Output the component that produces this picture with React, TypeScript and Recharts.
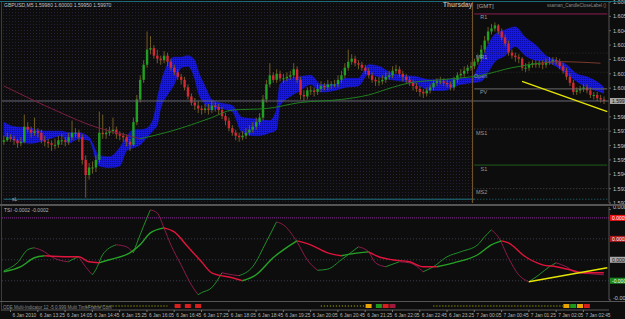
import React from 'react'
import {
  ComposedChart, Bar, Area, Line, Scatter, XAxis, YAxis, ReferenceLine,
} from 'recharts'

// GBPUSD M5, bars 0..176 (6 Jan 12:35 -> 7 Jan 03:15), slot 177 left empty
const FONT = '"Liberation Sans", Arial, sans-serif'
const SLOTS = 178
const FIRST_OPEN = 1.5970

const closes = [
  1.5971, 1.5973, 1.5972, 1.5971, 1.5969, 1.5970, 1.5980, 1.5978, 1.5976, 1.5977,
  1.5976, 1.5971, 1.5970, 1.5969, 1.5968, 1.5968, 1.5971, 1.5971, 1.5970, 1.5973,
  1.5976, 1.5976, 1.5973, 1.5958, 1.5948, 1.5953, 1.5953, 1.5958, 1.5976, 1.5975,
  1.5976, 1.5977, 1.5978, 1.5975, 1.5974, 1.5973, 1.5970, 1.5968, 1.5983, 1.5998,
  1.6011, 1.6021, 1.6031, 1.6032, 1.6027, 1.6025, 1.6024, 1.6027, 1.6023, 1.6019,
  1.6016, 1.6013, 1.6011, 1.6006, 1.6000, 1.5996, 1.5994, 1.5992, 1.5991, 1.5992,
  1.5991, 1.5994, 1.5993, 1.5991, 1.5987, 1.5984, 1.5979, 1.5976, 1.5974, 1.5973,
  1.5974, 1.5976, 1.5978, 1.5980, 1.5983, 1.5986, 1.5998, 1.6008, 1.6014, 1.6011,
  1.6015, 1.6012, 1.6012, 1.6013, 1.6014, 1.6018, 1.6011, 1.6001, 1.6000, 1.6004,
  1.6004, 1.6003, 1.6005, 1.6007, 1.6006, 1.6008, 1.6008, 1.6008, 1.6011, 1.6014,
  1.6019, 1.6023, 1.6025, 1.6022, 1.6021, 1.6019, 1.6017, 1.6014, 1.6011, 1.6010,
  1.6010, 1.6011, 1.6013, 1.6014, 1.6017, 1.6018, 1.6015, 1.6013, 1.6011, 1.6009,
  1.6007, 1.6005, 1.6003, 1.6002, 1.6004, 1.6006, 1.6009, 1.6010, 1.6010, 1.6009,
  1.6008, 1.6006, 1.6011, 1.6014, 1.6015, 1.6017, 1.6019, 1.6020, 1.6023, 1.6025,
  1.6031, 1.6037, 1.6043, 1.6045, 1.6047, 1.6043, 1.6039, 1.6035, 1.6029, 1.6027,
  1.6026, 1.6025, 1.6019, 1.6019, 1.6021, 1.6022, 1.6021, 1.6022, 1.6021, 1.6023,
  1.6023, 1.6024, 1.6023, 1.6020, 1.6017, 1.6013, 1.6009, 1.6003, 1.6004, 1.6005,
  1.6006, 1.6004, 1.6001, 1.6001, 1.5999, 1.5998, 1.5997,
]

const highs = [
  1.5974, 1.5976, 1.5975, 1.5974, 1.5972, 1.5973, 1.5988, 1.5983, 1.5980, 1.5986,
  1.5979, 1.5978, 1.5974, 1.5972, 1.5971, 1.5972, 1.5974, 1.5975, 1.5973, 1.5976,
  1.5984, 1.5979, 1.5978, 1.5975, 1.5961, 1.5956, 1.5957, 1.5961, 1.5990, 1.5988,
  1.5979, 1.5980, 1.5986, 1.5980, 1.5977, 1.5976, 1.5975, 1.5972, 1.5986, 1.6001,
  1.6014, 1.6024, 1.6043, 1.6040, 1.6034, 1.6031, 1.6027, 1.6030, 1.6029, 1.6025,
  1.6021, 1.6018, 1.6015, 1.6013, 1.6008, 1.6002, 1.5999, 1.5997, 1.5994, 1.5995,
  1.5995, 1.5997, 1.5996, 1.5995, 1.5993, 1.5989, 1.5986, 1.5981, 1.5978, 1.5976,
  1.5977, 1.5979, 1.5981, 1.5983, 1.5986, 1.5989, 1.6001, 1.6011, 1.6022, 1.6016,
  1.6018, 1.6017, 1.6015, 1.6016, 1.6017, 1.6022, 1.6020, 1.6013, 1.6004, 1.6006,
  1.6007, 1.6006, 1.6008, 1.6010, 1.6009, 1.6011, 1.6010, 1.6011, 1.6014, 1.6017,
  1.6022, 1.6031, 1.6028, 1.6027, 1.6024, 1.6023, 1.6021, 1.6019, 1.6016, 1.6013,
  1.6013, 1.6014, 1.6016, 1.6017, 1.6020, 1.6021, 1.6020, 1.6017, 1.6015, 1.6013,
  1.6011, 1.6009, 1.6007, 1.6005, 1.6006, 1.6008, 1.6011, 1.6012, 1.6013, 1.6012,
  1.6011, 1.6010, 1.6013, 1.6016, 1.6018, 1.6020, 1.6021, 1.6023, 1.6025, 1.6028,
  1.6034, 1.6040, 1.6046, 1.6048, 1.6049, 1.6048, 1.6045, 1.6041, 1.6037, 1.6031,
  1.6029, 1.6028, 1.6026, 1.6022, 1.6023, 1.6024, 1.6024, 1.6024, 1.6024, 1.6025,
  1.6026, 1.6026, 1.6026, 1.6025, 1.6022, 1.6019, 1.6015, 1.6011, 1.6006, 1.6007,
  1.6008, 1.6008, 1.6006, 1.6003, 1.6003, 1.6001, 1.6000,
]

const lows = [
  1.5968, 1.5970, 1.5970, 1.5968, 1.5966, 1.5967, 1.5969, 1.5976, 1.5973, 1.5974,
  1.5973, 1.5969, 1.5967, 1.5966, 1.5964, 1.5965, 1.5966, 1.5968, 1.5967, 1.5968,
  1.5971, 1.5973, 1.5970, 1.5955, 1.5933, 1.5945, 1.5949, 1.5950, 1.5956, 1.5972,
  1.5972, 1.5974, 1.5975, 1.5972, 1.5971, 1.5970, 1.5967, 1.5964, 1.5967, 1.5981,
  1.5996, 1.6009, 1.6019, 1.6028, 1.6025, 1.6022, 1.6021, 1.6022, 1.6020, 1.6017,
  1.6014, 1.6011, 1.6008, 1.6004, 1.5998, 1.5994, 1.5991, 1.5989, 1.5988, 1.5989,
  1.5988, 1.5989, 1.5990, 1.5988, 1.5985, 1.5981, 1.5977, 1.5974, 1.5971, 1.5970,
  1.5971, 1.5972, 1.5974, 1.5976, 1.5978, 1.5981, 1.5984, 1.5996, 1.6006, 1.6009,
  1.6009, 1.6010, 1.6009, 1.6010, 1.6011, 1.6012, 1.6009, 1.5998, 1.5997, 1.5998,
  1.6001, 1.6000, 1.6001, 1.6003, 1.6004, 1.6004, 1.6005, 1.6006, 1.6006, 1.6009,
  1.6012, 1.6017, 1.6021, 1.6020, 1.6018, 1.6017, 1.6015, 1.6012, 1.6009, 1.6007,
  1.6007, 1.6008, 1.6009, 1.6011, 1.6012, 1.6015, 1.6013, 1.6010, 1.6009, 1.6007,
  1.6004, 1.6003, 1.6000, 1.5999, 1.6000, 1.6002, 1.6004, 1.6007, 1.6008, 1.6007,
  1.6006, 1.6004, 1.6004, 1.6009, 1.6012, 1.6013, 1.6015, 1.6017, 1.6018, 1.6021,
  1.6023, 1.6029, 1.6035, 1.6041, 1.6043, 1.6041, 1.6037, 1.6033, 1.6027, 1.6025,
  1.6023, 1.6022, 1.6017, 1.6016, 1.6017, 1.6019, 1.6019, 1.6019, 1.6018, 1.6019,
  1.6021, 1.6021, 1.6021, 1.6018, 1.6015, 1.6011, 1.6007, 1.6001, 1.6001, 1.6002,
  1.6003, 1.6002, 1.5999, 1.5998, 1.5997, 1.5996, 1.5995,
]

// blue band (read at these bars)
const cloudBars = [
  0, 3, 8, 12, 17, 19, 22, 25, 28, 31, 34, 36, 38, 40, 42, 44, 45, 46, 48, 50,
  52, 54, 56, 57, 59, 61, 63, 67, 70, 74, 78, 80, 81, 84, 87, 90, 93, 97, 100, 104,
  107, 110, 114, 117, 121, 125, 129, 134, 137, 140, 142, 144, 147, 150, 153, 156, 159, 162, 165, 168,
  171, 175, 176,
]
const cloudTop = [
  1.5983, 1.5980, 1.5979, 1.5977, 1.5977, 1.5976, 1.5976, 1.5973, 1.5961, 1.5960,
  1.5966, 1.5973, 1.5978, 1.5978, 1.5979, 1.5986, 1.5998, 1.6008, 1.6021, 1.6026,
  1.6026, 1.6027, 1.6024, 1.6017, 1.6007, 1.5998, 1.5996, 1.5994, 1.5986, 1.5985,
  1.5984, 1.5991, 1.6008, 1.6012, 1.6013, 1.6014, 1.6008, 1.6008, 1.6012, 1.6012,
  1.6021, 1.6020, 1.6015, 1.6014, 1.6013, 1.6011, 1.6011, 1.6012, 1.6012, 1.6024,
  1.6034, 1.6041, 1.6044, 1.6046, 1.6039, 1.6034, 1.6027, 1.6024, 1.6021, 1.6015,
  1.6013, 1.6008, 1.6006,
]
const cloudBottom = [
  1.5974, 1.5971, 1.5969, 1.5971, 1.5974, 1.5969, 1.5972, 1.5971, 1.5954, 1.5953,
  1.5954, 1.5964, 1.5966, 1.5968, 1.5973, 1.5978, 1.5981, 1.5992, 1.6001, 1.6008,
  1.6019, 1.6020, 1.6012, 1.6003, 1.5995, 1.5991, 1.5992, 1.5990, 1.5976, 1.5974,
  1.5976, 1.5978, 1.5994, 1.6000, 1.6004, 1.6008, 1.6003, 1.6004, 1.6006, 1.6007,
  1.6015, 1.6013, 1.6011, 1.6010, 1.6008, 1.6004, 1.6004, 1.6008, 1.6009, 1.6010,
  1.6016, 1.6023, 1.6027, 1.6033, 1.6027, 1.6024, 1.6023, 1.6020, 1.6015, 1.6010,
  1.6006, 1.6003, 1.6002,
]

// moving average, split where its colour changes
const maFallingBars = [0, 14, 28, 35, 40]
const maFalling = [1.6007, 1.5992, 1.5979, 1.5975, 1.5972]
const maRisingBars = [40, 49, 61, 67, 77, 87, 99, 107, 114, 119, 128, 140, 149, 157]
const maRising = [1.5972, 1.5977, 1.5986, 1.5991, 1.5992, 1.5996, 1.5998, 1.6001, 1.6006, 1.6009, 1.6011, 1.6014, 1.6019, 1.6022]
const maFlatBars = [157, 163, 175]
const maFlat = [1.6022, 1.6023, 1.6022]

const DAY_START_BAR = 138
const pivotNames = ['R1', 'MR1', 'Open', 'PV', 'MS1', 'S1', 'MS2']
const pivotLevels = [1.60546, 1.60287, 1.6016, 1.6005, 1.59784, 1.59546, 1.5939]
const S2_LEVEL = 1.5932

const trendBars = [152, 177]
const trendPrices = [1.6010, 1.5990]

const priceTicks = [
  1.60625, 1.6053, 1.60435, 1.6034, 1.60245, 1.6015, 1.60055,
  1.59865, 1.5977, 1.59675, 1.5958, 1.59485, 1.5939, 1.59295,
]

// TSI sub-window
const fastBars = [
  0, 2, 4, 7, 9, 12, 14, 16, 19, 20, 22, 24, 26, 27, 29, 33, 36, 38, 40, 42,
  43, 45, 47, 49, 52, 55, 57, 58, 61, 64, 67, 69, 73, 77, 80, 82, 86, 89, 92, 95,
  99, 101, 104, 107, 109, 112, 116, 119, 123, 126, 130, 134, 139, 141, 143, 145, 148, 151, 154, 157,
  160, 162, 165, 168, 172, 176,
]
const fastVals = [
  -0.000131, -0.000095, -0.000036, 0.000119, 0.000143, 0.000095, 0.000036, 0, -0.000024, 0,
  0.000036, -0.000083, -0.000179, -0.000119, 0.00006, 0.000179, 0.000155, 0.000083, 0.000298, 0.0005,
  0.000595, 0.00056, 0.000381, 0.000179, -0.00006, -0.000298, -0.000417, -0.000393, -0.000333, -0.000155,
  -0.000179, -0.00019, -0.000083, 0.000214, 0.000452, 0.000417, 0.000214, 0, -0.000125, -0.000112,
  0, 0.00006, 0.000155, 0.000095, -0.000036, -0.000083, -0.000024, -0.000036, -0.000143, -0.000083,
  0.000036, 0.000095, 0.000179, 0.000274, 0.000357, 0.000274, 0.000024, -0.000179, -0.000262, -0.000179,
  -0.000083, -0.000036, -0.000083, -0.000155, -0.000167, -0.000179,
]
const slowBars = [
  0, 5, 9, 12, 19, 22, 25, 28, 31, 37, 40, 43, 47, 50, 54, 58, 61, 67, 70, 74,
  79, 86, 90, 95, 99, 102, 107, 110, 114, 119, 123, 127, 132, 139, 143, 146, 148, 153, 158, 162,
  166, 170, 174, 176,
]
const slowVals = [
  -0.000143, -0.000083, 0.000024, 0.000048, 0.000036, 0.000036, -0.000024, -0.000036, 0, 0.000083,
  0.000179, 0.000321, 0.000381, 0.000333, 0.000155, -0.000024, -0.000155, -0.000214, -0.00025, -0.000179,
  0.000024, 0.000226, 0.000179, 0.000083, 0.000048, 0.000071, 0.000095, 0.000036, 0, -0.000024,
  -0.000083, -0.000083, -0.000036, 0.00006, 0.000179, 0.000226, 0.000202, 0.000036, -0.00006, -0.000083,
  -0.000119, -0.000155, -0.000155, -0.000155,
]
const subLevels = [0.0005, 0.00025, 0, -0.00025]
const subLevelText = ['0.00050', '0.00025', '0.00000', '-0.00025']
const subTrendBars = [154, 177]
const subTrendVals = [-0.000262, -0.000095]

// signal strip under the TSI window
const stripBars = [51, 54, 57, 107, 110, 112, 114, 165, 167, 169, 171]
const stripKinds = ['sell', 'sell', 'sell', 'wait', 'buy', 'sell', 'strong', 'wait', 'buy', 'wait', 'sell']
const stripDotFrom = [24, 93, 126]
const stripDotTo = [48, 106, 164]

const timeTickBars = [2, 10, 18, 26, 34, 42, 50, 58, 66, 74, 82, 90, 98, 106, 114, 122, 130, 138, 146, 154, 162, 170]
const timeLabels = [
  '6 Jan 2010', '6 Jan 13:25', '6 Jan 14:05', '6 Jan 14:45', '6 Jan 15:25', '6 Jan 16:05',
  '6 Jan 16:45', '6 Jan 17:25', '6 Jan 18:05', '6 Jan 18:45', '6 Jan 19:25', '6 Jan 20:05',
  '6 Jan 20:45', '6 Jan 21:25', '6 Jan 22:05', '6 Jan 22:45', '6 Jan 23:25', '7 Jan 00:05',
  '7 Jan 00:45', '7 Jan 01:25', '7 Jan 02:05', '7 Jan 02:45',
]

const lastPrice = closes[closes.length - 1]

function sparse(bars: number[], vals: number[], i: number) {
  const k = bars.indexOf(i)
  return k >= 0 ? vals[k] : null
}

const rows = Array.from({ length: SLOTS }, (_, i) => {
  const has = i < closes.length
  const k = cloudBars.indexOf(i)
  return {
    i,
    candle: has ? [lows[i], highs[i]] : null,
    open: has ? (i === 0 ? FIRST_OPEN : closes[i - 1]) : null,
    close: has ? closes[i] : null,
    cloud: k >= 0 ? [cloudBottom[k], cloudTop[k]] : null,
    maFalling: sparse(maFallingBars, maFalling, i),
    maRising: sparse(maRisingBars, maRising, i),
    maFlat: sparse(maFlatBars, maFlat, i),
  }
})

// split a line into rising / falling runs so each run gets its own colour
function slopeRuns(bars: number[], vals: number[]) {
  const runs: { up: boolean; pts: { x: number; v: number }[] }[] = []
  for (let k = 1; k < bars.length; k++) {
    const up = vals[k] > vals[k - 1]
    const last = runs[runs.length - 1]
    if (last && last.up === up) last.pts.push({ x: bars[k], v: vals[k] })
    else runs.push({ up, pts: [{ x: bars[k - 1], v: vals[k - 1] }, { x: bars[k], v: vals[k] }] })
  }
  return runs
}
const fastRuns = slopeRuns(fastBars, fastVals)
const slowRuns = slopeRuns(slowBars, slowVals)

const stripData = stripBars.map((x, k) => ({ x, y: 0.5, kind: stripKinds[k] }))
const STRIP_COLORS: Record<string, string> = { sell: '#d81f1f', buy: '#1e9a1e', wait: '#e8a400', strong: '#a0183a' }

const PIVOT_STYLE: Record<string, { stroke: string; dash?: string }> = {
  R1: { stroke: '#8a1f52' },
  MR1: { stroke: '#2c2c2c', dash: '1 2' },
  Open: { stroke: '#2c2c2c', dash: '1 2' },
  PV: { stroke: '#6c6c6c' },
  MS1: { stroke: '#4a4a4a', dash: '1 2' },
  S1: { stroke: '#1f5c1f' },
  MS2: { stroke: '#4a4a4a', dash: '1 2' },
}

function Candle(props: any) {
  const { x, y, width, height, payload } = props
  if (!payload || payload.close == null || !height) return <g />
  const [lo, hi] = payload.candle
  const py = (v: number) => y + ((hi - v) / (hi - lo)) * height
  const cx = x + width / 2
  const top = py(Math.max(payload.open, payload.close))
  const bot = py(Math.min(payload.open, payload.close))
  const up = payload.close >= payload.open
  return (
    <g>
      <rect x={cx - 0.5} y={y} width={1} height={height} fill="#6e5b22" />
      <rect x={cx - 1.2} y={top} width={2.4} height={Math.max(1, bot - top)} fill={up ? '#1fa01f' : '#d42835'} />
    </g>
  )
}

function PivotLabel(props: any) {
  const { viewBox, text } = props
  if (!viewBox) return null
  return (
    <text x={viewBox.x + 13} y={viewBox.y + 5.5} textAnchor="end" fontSize={5.5} fill="#9a9a9a">{text}</text>
  )
}

function AxisBox(props: any) {
  const { viewBox, text, bg, fg } = props
  if (!viewBox) return null
  const x = viewBox.x + viewBox.width + 1
  return (
    <g>
      <rect x={x} y={viewBox.y - 3} width={16} height={6} fill={bg} />
      <text x={x + 2} y={viewBox.y + 2} fontSize={5} fill={fg}>{text}</text>
    </g>
  )
}

function TimeTick(props: any) {
  const { x, y, payload } = props
  const k = timeTickBars.indexOf(payload.value)
  return (
    <g>
      <line x1={x} x2={x} y1={y - 2} y2={y} stroke="#777" />
      <text x={x + 2} y={y + 4.5} fontSize={4.8} fill="#b4b4b4">{timeLabels[k]}</text>
    </g>
  )
}

const txt = (left: number, top: number, size: number, color: string, extra: React.CSSProperties = {}) => ({
  position: 'absolute' as const, left, top, fontSize: size, color, lineHeight: 1, whiteSpace: 'nowrap' as const, ...extra,
})

export default function App() {
  return (
    <div style={{ position: 'relative', width: 625, height: 319, background: '#0d0d0d', overflow: 'hidden', fontFamily: FONT }}>
      <style>{'body{margin:0;background:#0d0d0d}'}</style>

      {/* dotted background of the previous day */}
      <div style={{
        position: 'absolute', left: 2, top: 2, width: 471, height: 201,
        backgroundImage: 'radial-gradient(circle, #2a1d38 0.7px, transparent 0.9px)',
        backgroundSize: '3px 3px',
      }} />

      {/* price window */}
      <div style={{ position: 'absolute', left: 0, top: 0 }}>
        <ComposedChart width={625} height={205} data={rows} margin={{ top: 2, right: 0, bottom: 2, left: 2 }}>
          <defs>
            <pattern id="kumoDots" width="2" height="2" patternUnits="userSpaceOnUse">
              <rect width="2" height="2" fill="#1717e4" />
              <rect width="1" height="1" fill="#0a0aa6" />
            </pattern>
          </defs>
          <XAxis dataKey="i" hide />
          <YAxis
            orientation="right"
            width={16}
            domain={[1.59295, 1.60625]}
            allowDataOverflow
            ticks={priceTicks}
            interval={0}
            tickFormatter={(v: number) => v.toFixed(5)}
            tick={{ fill: '#c4c4c4', fontSize: 5.5 }}
            tickSize={2}
            tickMargin={2}
            axisLine={{ stroke: '#555' }}
            tickLine={{ stroke: '#666' }}
          />

          <ReferenceLine y={lastPrice} stroke="#6a6a78"
            label={<AxisBox text={lastPrice.toFixed(5)} bg="#a6a6a6" fg="#111" />} />
          <ReferenceLine segment={[{ x: 0, y: S2_LEVEL }, { x: DAY_START_BAR, y: S2_LEVEL }]} stroke="#1f7480" />
          <ReferenceLine segment={[{ x: DAY_START_BAR, y: S2_LEVEL }, { x: SLOTS - 1, y: S2_LEVEL }]} stroke="#1f7480" strokeDasharray="1 2" />
          {pivotNames.map((name, k) => (
            <ReferenceLine
              key={name}
              segment={[{ x: DAY_START_BAR, y: pivotLevels[k] }, { x: SLOTS - 1, y: pivotLevels[k] }]}
              stroke={PIVOT_STYLE[name].stroke}
              strokeDasharray={PIVOT_STYLE[name].dash}
              label={<PivotLabel text={name} />}
            />
          ))}
          <ReferenceLine x={DAY_START_BAR} position="start" stroke="#7a5a30" />

          <Area
            dataKey="cloud"
            type="monotone"
            connectNulls
            fill="url(#kumoDots)"
            fillOpacity={1}
            stroke="#1a1af0"
            strokeWidth={0.5}
            dot={false}
            activeDot={false}
            isAnimationActive={false}
          />
          <Line dataKey="maFalling" type="monotone" connectNulls stroke="#7a1f3d" strokeWidth={1} dot={false} isAnimationActive={false} />
          <Line dataKey="maRising" type="monotone" connectNulls stroke="#1f7f1f" strokeWidth={1} dot={false} isAnimationActive={false} />
          <Line dataKey="maFlat" type="monotone" connectNulls stroke="#7a3a2e" strokeWidth={1} dot={false} isAnimationActive={false} />

          <Bar dataKey="candle" shape={<Candle />} isAnimationActive={false} />

          <ReferenceLine
            segment={[{ x: trendBars[0], y: trendPrices[0] }, { x: trendBars[1], y: trendPrices[1] }]}
            stroke="#e6e600"
            strokeWidth={1.4}
          />
        </ComposedChart>
      </div>

      {/* TSI window */}
      <div style={{ position: 'absolute', left: 0, top: 205 }}>
        <ComposedChart width={625} height={100} margin={{ top: 2, right: 0, bottom: 5, left: 2 }}>
          <XAxis type="number" dataKey="x" domain={[-0.5, SLOTS - 0.5]} allowDataOverflow hide />
          <YAxis
            orientation="right"
            width={16}
            domain={[-0.00048, 0.00063]}
            allowDataOverflow
            ticks={[0.0006, -0.00048]}
            interval={0}
            tickFormatter={(v: number) => v.toFixed(4)}
            tick={{ fill: '#c4c4c4', fontSize: 5.5, dy: -2 }}
            tickSize={2}
            tickMargin={2}
            axisLine={{ stroke: '#555' }}
            tickLine={{ stroke: '#666' }}
          />
          {subLevels.map((lv, k) => (
            <ReferenceLine
              key={lv}
              y={lv}
              stroke={k === 0 ? '#8a2a9a' : '#3a3a4e'}
              strokeDasharray={k === 0 ? '1 1' : '1 2'}
              label={<AxisBox text={subLevelText[k]}
                bg={['#f01414', '#b01a1a', '#a8a8a8', '#1d8a1d'][k]}
                fg={k === 2 ? '#111' : '#fff'} />}
            />
          ))}
          {fastRuns.map((run, k) => (
            <Line key={'f' + k} data={run.pts} dataKey="v" type="monotone"
              stroke={run.up ? '#1f8f2a' : '#8a1a4a'} strokeWidth={1} dot={false} isAnimationActive={false} />
          ))}
          {slowRuns.map((run, k) => (
            <Line key={'s' + k} data={run.pts} dataKey="v" type="monotone"
              stroke={run.up ? '#26a326' : '#e0143c'} strokeWidth={1.4} dot={false} isAnimationActive={false} />
          ))}
          <ReferenceLine
            segment={[{ x: subTrendBars[0], y: subTrendVals[0] }, { x: subTrendBars[1], y: subTrendVals[1] }]}
            stroke="#e6e600"
            strokeWidth={1.3}
          />
        </ComposedChart>
      </div>

      {/* signal strip + time axis */}
      <div style={{ position: 'absolute', left: 0, top: 301 }}>
        <ComposedChart width={625} height={18} margin={{ top: 1, right: 16, bottom: 0, left: 2 }}>
          <XAxis
            type="number"
            dataKey="x"
            domain={[-0.5, SLOTS - 0.5]}
            allowDataOverflow
            ticks={timeTickBars}
            interval={0}
            height={9}
            tickSize={2}
            tickMargin={0}
            tickLine={false}
            axisLine={{ stroke: '#5a5a5a' }}
            tick={<TimeTick />}
          />
          <YAxis type="number" dataKey="y" domain={[0, 1]} hide />
          {stripDotFrom.map((from, k) => (
            <ReferenceLine key={from} segment={[{ x: from, y: 0.5 }, { x: stripDotTo[k], y: 0.5 }]}
              stroke="#c8c800" strokeDasharray="1 2" />
          ))}
          <Scatter
            data={stripData}
            isAnimationActive={false}
            shape={(p: any) => (
              <rect x={p.cx - 3} y={p.cy - 2} width={6} height={4} fill={STRIP_COLORS[p.payload.kind]} />
            )}
          />
        </ComposedChart>
      </div>

      {/* window frames */}
      <div style={{ position: 'absolute', left: 0, top: 1, width: 625, height: 1, background: '#1d6b78' }} />
      <div style={{ position: 'absolute', left: 1, top: 2, width: 1, height: 309, background: '#3c3c3c' }} />
      <div style={{ position: 'absolute', left: 0, top: 204, width: 625, height: 2, background: '#555' }} />
      <div style={{ position: 'absolute', left: 0, top: 301, width: 625, height: 1, background: '#555' }} />

      {/* texts */}
      <div style={txt(4, 3, 5, '#c0c0c0')}>GBPUSD,M5  1.59980 1.60000 1.59950 1.59970</div>
      <div style={txt(443, 2, 6.5, '#a8a8a8', { fontWeight: 700 })}>Thursday</div>
      <div style={txt(477, 2.5, 6, '#a8a8a8')}>[GMT]</div>
      <div style={txt(547, 3.5, 4.5, '#8c8c8c')}>ssaman_CandleCloseLabel ()</div>
      <div style={txt(12, 197, 5, '#b0b0b0')}>sL</div>
      <div style={txt(4, 208, 5, '#b4b4b4')}>TSI -0.0002 -0.0002</div>
      <div style={txt(3, 306, 4.5, '#8a8a8a')}>ODE Multi-Indicator 12 -5 0.999 Multi TimeFrame Conf</div>
    </div>
  )
}
